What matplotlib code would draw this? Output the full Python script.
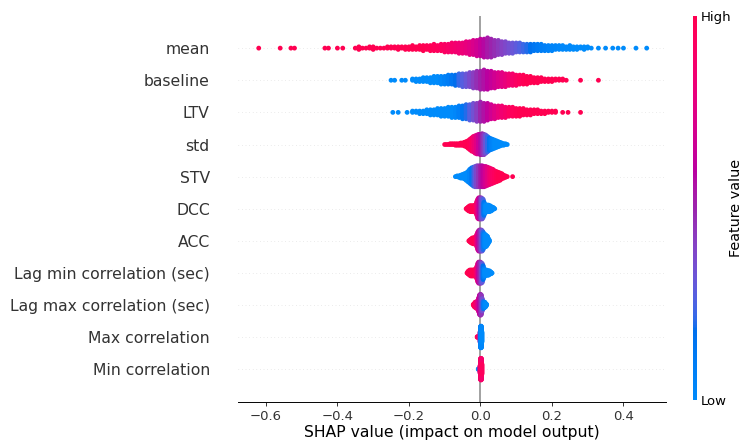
import numpy as np
import matplotlib
matplotlib.use("Agg")
import matplotlib.pyplot as plt
from matplotlib.colors import LinearSegmentedColormap
from matplotlib.cm import ScalarMappable

# features, bottom row first
features = ["Min correlation", "Max correlation", "Lag max correlation (sec)",
            "Lag min correlation (sec)", "ACC", "DCC", "STV", "std", "LTV",
            "baseline", "mean"]

# per feature: shap value of each bin, number of samples in it, feature value (0 low .. 1 high)
mean_x = [-0.62, -0.56, -0.53, -0.52, -0.435, -0.425, -0.40, -0.385, -0.35, -0.34, -0.33, -0.32, -0.31, -0.30, -0.29,
          -0.28, -0.27, -0.26, -0.25, -0.24, -0.23, -0.22, -0.21, -0.20, -0.19, -0.18, -0.17, -0.16, -0.15, -0.14, -0.13, -0.12, -0.11, -0.10,
          -0.09, -0.08, -0.07, -0.06, -0.05, -0.04, -0.03, -0.02, -0.01, 0.00, 0.01, 0.02, 0.03, 0.04, 0.05, 0.06, 0.07, 0.08, 0.09,
          0.10, 0.11, 0.12, 0.13, 0.14, 0.15, 0.16, 0.17, 0.18, 0.19, 0.20, 0.21, 0.22, 0.23, 0.24, 0.25, 0.26, 0.27, 0.28, 0.29, 0.30, 0.31,
          0.33, 0.35, 0.37, 0.385, 0.40, 0.435, 0.465]
mean_n = [1, 1, 1, 1, 1, 1, 1, 1, 1, 3, 1, 1, 2, 3, 1,
          1, 1, 2, 2, 2, 3, 2, 3, 3, 4, 3, 4, 5, 4, 5, 6, 5, 6, 7,
          7, 8, 8, 9, 9, 10, 11, 12, 13, 14, 15, 16, 15, 13, 12, 11, 10, 9, 9,
          8, 8, 7, 7, 7, 6, 6, 6, 5, 5, 5, 4, 4, 4, 3, 4, 3, 3, 2, 3, 2, 1,
          1, 1, 1, 1, 1, 1, 1]
mean_c = [1, 1, 1, 1, 1, 1, 1, 1, 1, 1, 1, 1, 1, 1, 1,
          1, 1, 1, 1, 1, 1, 1, 1, 1, 1, 1, 1, 1, 0.98, 0.97, 0.96, 0.95, 0.93, 0.92,
          0.9, 0.88, 0.86, 0.84, 0.82, 0.79, 0.76, 0.72, 0.68, 0.63, 0.58, 0.54, 0.5, 0.47, 0.44, 0.41, 0.38, 0.35, 0.32,
          0.29, 0.26, 0.23, 0.2, 0.17, 0.14, 0.12, 0.1, 0.08, 0.06, 0.05, 0.04, 0.03, 0.02, 0.02, 0.01, 0, 0, 0, 0, 0, 0,
          0, 0, 0, 0, 0, 0, 0]

baseline_x = [-0.25, -0.24, -0.22, -0.21,
              -0.19, -0.18, -0.17, -0.16, -0.15, -0.14, -0.13, -0.12, -0.11, -0.10,
              -0.09, -0.08, -0.07, -0.06, -0.05, -0.04, -0.03, -0.02, -0.01, 0.00, 0.01, 0.02, 0.03, 0.04, 0.05, 0.06, 0.07, 0.08, 0.09,
              0.10, 0.11, 0.12, 0.13, 0.14, 0.15, 0.16, 0.17, 0.18, 0.19, 0.20, 0.21, 0.22, 0.23, 0.24,
              0.28, 0.33]
baseline_n = [1, 1, 1, 1,
              2, 3, 3, 4, 4, 5, 6, 6, 7, 7,
              8, 8, 9, 10, 11, 11, 12, 13, 14, 15, 16, 15, 14, 13, 12, 12, 11, 10, 10,
              9, 8, 8, 7, 6, 5, 5, 4, 3, 3, 3, 2, 2, 2, 1,
              1, 1]
baseline_c = [0, 0, 0, 0,
              0, 0, 0, 0, 0, 0, 0, 0, 0.03, 0.06,
              0.1, 0.14, 0.18, 0.22, 0.27, 0.32, 0.37, 0.42, 0.47, 0.52, 0.56, 0.6, 0.64, 0.68, 0.72, 0.76, 0.8, 0.84, 0.88,
              0.92, 0.95, 0.98, 1, 1, 1, 1, 1, 1, 1, 1, 1, 1, 1, 1,
              1, 1]

ltv_x = [-0.245, -0.23, -0.205,
         -0.19, -0.18, -0.17, -0.16, -0.15, -0.14, -0.13, -0.12, -0.11, -0.10,
         -0.09, -0.08, -0.07, -0.06, -0.05, -0.04, -0.03, -0.02, -0.01, 0.00, 0.01, 0.02, 0.03, 0.04, 0.05, 0.06, 0.07, 0.08, 0.09,
         0.10, 0.11, 0.12, 0.13, 0.14, 0.15, 0.16, 0.17, 0.18, 0.19, 0.20, 0.21,
         0.23, 0.245, 0.28]
ltv_n = [1, 1, 1,
         2, 2, 3, 3, 4, 5, 5, 6, 7, 7,
         8, 9, 9, 10, 11, 12, 13, 14, 15, 16, 15, 14, 12, 11, 10, 10, 9, 8, 8,
         7, 7, 6, 5, 5, 4, 4, 3, 3, 2, 2, 2,
         1, 1, 1]
ltv_c = [0, 0, 0,
         0, 0, 0, 0, 0, 0, 0, 0, 0, 0,
         0, 0, 0.03, 0.08, 0.14, 0.2, 0.27, 0.34, 0.42, 0.5, 0.56, 0.62, 0.68, 0.74, 0.8, 0.85, 0.89, 0.93, 0.96,
         0.98, 1, 1, 1, 1, 1, 1, 1, 1, 1, 1, 1,
         1, 1, 1]

std_x = [-0.100, -0.095, -0.090, -0.085, -0.080, -0.075, -0.070, -0.065, -0.060, -0.055, -0.050, -0.045,
         -0.040, -0.035, -0.030, -0.025, -0.020, -0.015, -0.010, -0.005, 0.000, 0.005, 0.010, 0.015,
         0.020, 0.025, 0.030, 0.035, 0.040, 0.045, 0.050, 0.055, 0.060, 0.065, 0.070, 0.075]
std_n = [1, 1, 1, 2, 2, 2, 3, 3, 3, 4, 4, 6,
         8, 11, 15, 19, 22, 25, 27, 28, 29, 30, 29, 26,
         22, 18, 16, 14, 12, 10, 8, 6, 4, 3, 2, 1]
std_c = [1, 1, 1, 1, 1, 1, 1, 1, 1, 1, 1, 1,
         1, 1, 0.97, 0.93, 0.88, 0.82, 0.75, 0.66, 0.58, 0.5, 0.42, 0.32,
         0.22, 0.14, 0.08, 0.04, 0, 0, 0, 0, 0, 0, 0, 0]

stv_x = [-0.070, -0.065, -0.060, -0.055, -0.050, -0.045, -0.040, -0.035, -0.030, -0.025, -0.020, -0.015,
         -0.010, -0.005, 0.000, 0.005, 0.010, 0.015, 0.020, 0.025, 0.030, 0.035, 0.040, 0.045,
         0.050, 0.055, 0.060, 0.065, 0.070, 0.075, 0.090]
stv_n = [1, 2, 3, 5, 6, 8, 11, 15, 20, 24, 27, 29,
         30, 30, 30, 30, 29, 28, 26, 24, 22, 20, 17, 15,
         13, 11, 8, 5, 3, 1, 1]
stv_c = [0, 0, 0, 0, 0, 0, 0, 0, 0.05, 0.12, 0.2, 0.3,
         0.38, 0.45, 0.52, 0.58, 0.64, 0.7, 0.76, 0.82, 0.87, 0.91, 0.94, 0.97,
         1, 1, 1, 1, 1, 1, 1]

dcc_x = [-0.04, -0.0375, -0.035, -0.0325, -0.03, -0.0275, -0.025, -0.0225, -0.02, -0.0175, -0.015,
         -0.0125, -0.01, -0.0075, -0.005, -0.0025, 0.0, 0.0025, 0.005, 0.0075, 0.01, 0.0125,
         0.015, 0.0175, 0.02, 0.0225, 0.025, 0.0275, 0.03, 0.0325, 0.035, 0.0375, 0.04]
dcc_n = [1, 3, 5, 7, 8, 9, 9, 9, 9, 9, 10,
         13, 20, 27, 30, 30, 30, 30, 29, 26, 19, 13,
         11, 10, 10, 10, 9, 8, 7, 5, 4, 2, 1]
dcc_c = [1, 1, 1, 1, 1, 1, 1, 1, 1, 1, 1,
         0.95, 0.88, 0.8, 0.7, 0.6, 0.5, 0.42, 0.35, 0.25, 0.15, 0.08,
         0, 0, 0, 0, 0, 0, 0, 0, 0, 0, 0]

acc_x = [-0.0325, -0.03, -0.0275, -0.025, -0.0225, -0.02, -0.0175, -0.015,
         -0.0125, -0.01, -0.0075, -0.005, -0.0025, 0.0, 0.0025, 0.005, 0.0075, 0.01,
         0.0125, 0.015, 0.0175, 0.02, 0.0225, 0.025]
acc_n = [1, 3, 5, 7, 8, 9, 9, 10,
         12, 18, 25, 29, 30, 30, 30, 29, 25, 20,
         18, 17, 15, 12, 7, 3]
acc_c = [1, 1, 1, 1, 1, 1, 1, 1,
         0.95, 0.85, 0.75, 0.65, 0.55, 0.47, 0.4, 0.3, 0.2, 0.1,
         0.03, 0, 0, 0, 0, 0]

lagmin_x = [-0.0375, -0.035, -0.0325, -0.03, -0.0275, -0.025, -0.0225, -0.02, -0.0175, -0.015,
            -0.0125, -0.01, -0.0075, -0.005, -0.0025, 0.0, 0.0025, 0.005, 0.0075, 0.01,
            0.0125, 0.015, 0.0175, 0.02, 0.0225, 0.025, 0.0275, 0.03, 0.0325]
lagmin_n = [1, 4, 6, 8, 9, 9, 9, 9, 9, 10,
            12, 18, 26, 30, 30, 30, 29, 27, 20, 13,
            9, 8, 8, 7, 7, 6, 4, 3, 1]
lagmin_c = [1, 1, 1, 1, 1, 1, 1, 1, 1, 1,
            0.95, 0.88, 0.78, 0.65, 0.55, 0.48, 0.4, 0.3, 0.18, 0.08,
            0, 0, 0, 0, 0, 0, 0, 0, 0]

lagmax_x = [-0.02, -0.0175, -0.015, -0.0125, -0.01, -0.0075, -0.005, -0.0025,
            0.0, 0.0025, 0.005, 0.0075, 0.01, 0.0125, 0.015, 0.0175]
lagmax_n = [2, 5, 8, 9, 10, 13, 20, 28, 30, 28, 18, 11, 9, 8, 5, 2]
lagmax_c = [1, 1, 0.95, 0.9, 0.85, 0.78, 0.7, 0.6, 0.52, 0.45, 0.35, 0.2, 0.1, 0.05, 0, 0]

maxc_x = [-0.009, -0.008, -0.001, 0.000, 0.001, 0.002, 0.003, 0.004]
maxc_n = [2, 2, 20, 40, 42, 42, 40, 20]
maxc_c = [1, 0.95, 0.45, 0.1, 0.05, 0.08, 0.03, 0]

minc_x = [-0.006, -0.001, 0.000, 0.001, 0.002, 0.003, 0.004]
minc_n = [2, 15, 40, 42, 42, 40, 20]
minc_c = [0, 0.8, 0.9, 0.85, 0.92, 0.88, 0.95]

rows = [(minc_x, minc_n, minc_c), (maxc_x, maxc_n, maxc_c), (lagmax_x, lagmax_n, lagmax_c),
        (lagmin_x, lagmin_n, lagmin_c), (acc_x, acc_n, acc_c), (dcc_x, dcc_n, dcc_c),
        (stv_x, stv_n, stv_c), (std_x, std_n, std_c), (ltv_x, ltv_n, ltv_c),
        (baseline_x, baseline_n, baseline_c), (mean_x, mean_n, mean_c)]


# shap's red_blue colormap (interpolated in Lch space)
def lch2rgb(l, c, h):
    a, b = c * np.cos(h), c * np.sin(h)
    fy = (l + 16) / 116
    f = np.array([fy + a / 500, fy, fy - b / 200])
    xyz = np.where(f > 6 / 29, f ** 3, 3 * (6 / 29) ** 2 * (f - 4 / 29)) * np.array([0.95047, 1.0, 1.08883])
    m = np.array([[3.2406, -1.5372, -0.4986], [-0.9689, 1.8758, 0.0415], [0.0557, -0.2040, 1.0570]])
    rgb = np.clip(m @ xyz, 0, None)
    rgb = np.where(rgb > 0.0031308, 1.055 * rgb ** (1 / 2.4) - 0.055, 12.92 * rgb)
    return np.clip(rgb, 0, 1)


l_vals = list(np.linspace(54, 40, 50)) + list(np.linspace(40, 54, 50))
c_vals = np.linspace(70, 90, 100)
h_vals = np.linspace(4.6588, 0.35470565 + 2 * np.pi, 100)
cmap = LinearSegmentedColormap.from_list("red_blue", [lch2rgb(l, c, h) for l, c, h in zip(l_vals, c_vals, h_vals)])

dpi = 86.4
fig = plt.figure(figsize=(744 / dpi, 441 / dpi), dpi=dpi)
ax = fig.add_axes([238 / 744, 1 - 401.5 / 441, 428 / 744, 385.5 / 441])

row_height = 0.4
for pos, (xs, ns, cs) in enumerate(rows):
    ax.axhline(y=pos, color="#cccccc", lw=0.5, dashes=(1, 5), zorder=-1)
    px, py, pc = [], [], []
    for x, n, c in zip(xs, ns, cs):
        for layer in range(n):
            px.append(x)
            py.append(np.ceil(layer / 2) * ((layer % 2) * 2 - 1))
            pc.append(c)
    py = np.array(py)
    py *= 0.9 * (row_height / np.max(py + 1))
    ax.scatter(px, pos + py, c=pc, cmap=cmap, vmin=0, vmax=1, s=16, linewidth=0, zorder=3)

ax.axvline(x=0, color="#999999", zorder=-1)

ax.xaxis.set_ticks_position("bottom")
ax.yaxis.set_ticks_position("none")
for s in ["right", "top", "left"]:
    ax.spines[s].set_visible(False)
ax.tick_params(color="#333333", labelcolor="#333333")
ax.set_yticks(range(len(features)))
ax.set_yticklabels(features, fontsize=13)
ax.tick_params("y", length=20, width=0.5, which="major")
ax.tick_params("x", labelsize=11)
ax.set_xticks([-0.6, -0.4, -0.2, 0.0, 0.2, 0.4])
ax.set_xlim(-0.678, 0.519)
ax.set_ylim(-1, len(features))
ax.set_xlabel("SHAP value (impact on model output)", fontsize=13, labelpad=1.5)

cax = fig.add_axes([693 / 744, 1 - 400 / 441, 4 / 744, 384 / 441])
cb = fig.colorbar(ScalarMappable(cmap=cmap), cax=cax, ticks=[0, 1])
cb.set_ticklabels(["Low", "High"])
cb.set_label("Feature value", size=12, labelpad=-2)
cb.ax.tick_params(labelsize=11, length=0)
cb.outline.set_visible(False)

fig.savefig("out.png", dpi=dpi)
